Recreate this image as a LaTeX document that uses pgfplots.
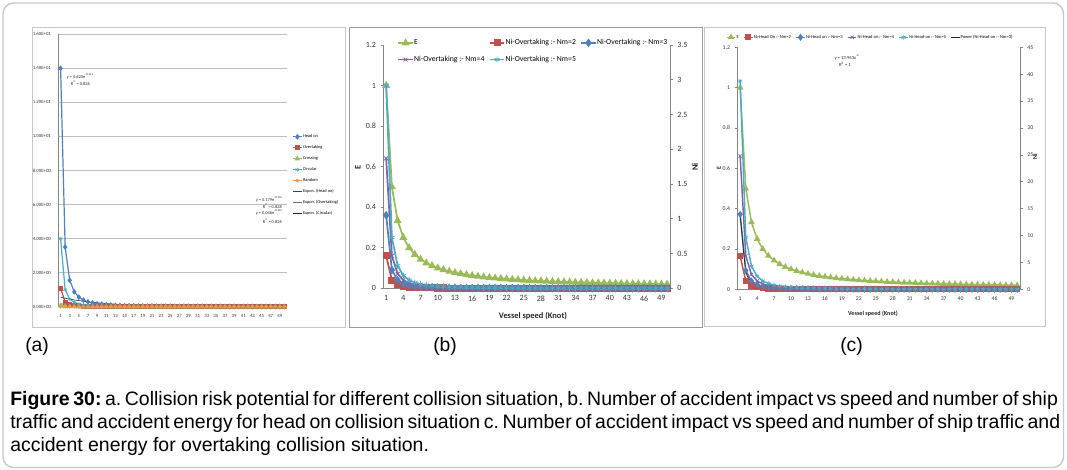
\documentclass[border=0pt]{standalone}
\usepackage{fontspec}
\setmainfont{Carlito}
\newfontfamily\capfont{Liberation Sans}
\usepackage{pgfplots}
\usepackage{pgfplotstable}
\pgfplotsset{compat=1.18}

\definecolor{exblue}{HTML}{4F81BD}
\definecolor{exred}{HTML}{C0504D}
\definecolor{exgreen}{HTML}{9BBB59}
\definecolor{expurple}{HTML}{8064A2}
\definecolor{excyan}{HTML}{4BACC6}
\definecolor{exorange}{HTML}{F79646}
\definecolor{axgray}{HTML}{868686}
\definecolor{gridgray}{HTML}{BFBFBF}
\definecolor{framegray}{HTML}{C8C8C8}

\newcommand\fsz[1]{\fontsize{#1}{#1}\selectfont}
\frenchspacing

% (a) collision risk potential per situation
\pgfplotstableread{
x headon overtaking crossing circular random
1 14 1.08 0.06 4 0
2 3.5 0.27 0.015 1 0
3 1.5556 0.12 0.0067 0.4444 0
4 0.875 0.0675 0.0038 0.25 0
5 0.56 0.0432 0.0024 0.16 0
6 0.3889 0.03 0.0017 0.1111 0
7 0.2857 0.022 0.0012 0.0816 0
8 0.2188 0.0169 0.0009 0.0625 0
9 0.1728 0.0133 0.0007 0.0494 0
10 0.14 0.0108 0.0006 0.04 0
11 0.1157 0.0089 0.0005 0.0331 0
12 0.0972 0.0075 0.0004 0.0278 0
13 0.0828 0.0064 0.0004 0.0237 0
14 0.0714 0.0055 0.0003 0.0204 0
15 0.0622 0.0048 0.0003 0.0178 0
16 0.0547 0.0042 0.0002 0.0156 0
17 0.0484 0.0037 0.0002 0.0138 0
18 0.0432 0.0033 0.0002 0.0123 0
19 0.0388 0.003 0.0002 0.0111 0
20 0.035 0.0027 0.0002 0.01 0
21 0.0317 0.0024 0.0001 0.0091 0
22 0.0289 0.0022 0.0001 0.0083 0
23 0.0265 0.002 0.0001 0.0076 0
24 0.0243 0.0019 0.0001 0.0069 0
25 0.0224 0.0017 0.0001 0.0064 0
26 0.0207 0.0016 0.0001 0.0059 0
27 0.0192 0.0015 0.0001 0.0055 0
28 0.0179 0.0014 0.0001 0.0051 0
29 0.0166 0.0013 0.0001 0.0048 0
30 0.0156 0.0012 0.0001 0.0044 0
31 0.0146 0.0011 0.0001 0.0042 0
32 0.0137 0.0011 0.0001 0.0039 0
33 0.0129 0.001 0.0001 0.0037 0
34 0.0121 0.0009 0.0001 0.0035 0
35 0.0114 0.0009 0 0.0033 0
36 0.0108 0.0008 0 0.0031 0
37 0.0102 0.0008 0 0.0029 0
38 0.0097 0.0007 0 0.0028 0
39 0.0092 0.0007 0 0.0026 0
40 0.0088 0.0007 0 0.0025 0
41 0.0083 0.0006 0 0.0024 0
42 0.0079 0.0006 0 0.0023 0
43 0.0076 0.0006 0 0.0022 0
44 0.0072 0.0006 0 0.0021 0
45 0.0069 0.0005 0 0.002 0
46 0.0066 0.0005 0 0.0019 0
47 0.0063 0.0005 0 0.0018 0
48 0.0061 0.0005 0 0.0017 0
49 0.0058 0.0004 0 0.0017 0
50 0.0056 0.0004 0 0.0016 0
}\tblA

% (a) exponential trend lines
\pgfplotstableread{
x hon ovt cir
1 0.555 0.0412 0.160
2 0.497 0.0369 0.1435
3 0.445 0.033 0.1285
4 0.398 0.0295 0.115
5 0.357 0.0265 0.103
6 0.319 0.0237 0.092
7 0.286 0.0212 0.0826
8 0.256 0.019 0.074
9 0.229 0.017 0.066
10 0.205 0.0152 0.059
12 0.164 0.0122 0.0474
14 0.131 0.0097 0.0378
16 0.105 0.0078 0.0303
18 0.084 0.0062 0.0243
20 0.067 0.005 0.0193
23 0.048 0.0036 0.0139
26 0.035 0.0026 0.0101
30 0.022 0.0016 0.0064
35 0.013 0.0010 0.0037
40 0.0073 0.0005 0.0021
45 0.0042 0.0003 0.0012
50 0.0024 0.0002 0.0007
}\tblAtrend

% (b) energy and overtaking impacts
\pgfplotstableread{
x E n2 n3 n4 n5
1 1 0.467 1.051 1.869 2.92
2 0.5 0.1168 0.2628 0.4673 0.73
3 0.3333 0.0519 0.1168 0.2077 0.3244
4 0.25 0.0292 0.0657 0.1168 0.1825
5 0.2 0.0187 0.042 0.0748 0.1168
6 0.1667 0.013 0.0292 0.0519 0.0811
7 0.1429 0.0095 0.0214 0.0381 0.0596
8 0.125 0.0073 0.0164 0.0292 0.0456
9 0.1111 0.0058 0.013 0.0231 0.036
10 0.1 0.0047 0.0105 0.0187 0.0292
11 0.0909 0.0039 0.0087 0.0154 0.0241
12 0.0833 0.0032 0.0073 0.013 0.0203
13 0.0769 0.0028 0.0062 0.0111 0.0173
14 0.0714 0.0024 0.0054 0.0095 0.0149
15 0.0667 0.0021 0.0047 0.0083 0.013
16 0.0625 0.0018 0.0041 0.0073 0.0114
17 0.0588 0.0016 0.0036 0.0065 0.0101
18 0.0556 0.0014 0.0032 0.0058 0.009
19 0.0526 0.0013 0.0029 0.0052 0.0081
20 0.05 0.0012 0.0026 0.0047 0.0073
21 0.0476 0.0011 0.0024 0.0042 0.0066
22 0.0455 0.001 0.0022 0.0039 0.006
23 0.0435 0.0009 0.002 0.0035 0.0055
24 0.0417 0.0008 0.0018 0.0032 0.0051
25 0.04 0.0007 0.0017 0.003 0.0047
26 0.0385 0.0007 0.0016 0.0028 0.0043
27 0.037 0.0006 0.0014 0.0026 0.004
28 0.0357 0.0006 0.0013 0.0024 0.0037
29 0.0345 0.0006 0.0012 0.0022 0.0035
30 0.0333 0.0005 0.0012 0.0021 0.0032
31 0.0323 0.0005 0.0011 0.0019 0.003
32 0.0313 0.0005 0.001 0.0018 0.0029
33 0.0303 0.0004 0.001 0.0017 0.0027
34 0.0294 0.0004 0.0009 0.0016 0.0025
35 0.0286 0.0004 0.0009 0.0015 0.0024
36 0.0278 0.0004 0.0008 0.0014 0.0023
37 0.027 0.0003 0.0008 0.0014 0.0021
38 0.0263 0.0003 0.0007 0.0013 0.002
39 0.0256 0.0003 0.0007 0.0012 0.0019
40 0.025 0.0003 0.0007 0.0012 0.0018
41 0.0244 0.0003 0.0006 0.0011 0.0017
42 0.0238 0.0003 0.0006 0.0011 0.0017
43 0.0233 0.0003 0.0006 0.001 0.0016
44 0.0227 0.0002 0.0005 0.001 0.0015
45 0.0222 0.0002 0.0005 0.0009 0.0014
46 0.0217 0.0002 0.0005 0.0009 0.0014
47 0.0213 0.0002 0.0005 0.0008 0.0013
48 0.0208 0.0002 0.0005 0.0008 0.0013
49 0.0204 0.0002 0.0004 0.0008 0.0012
50 0.02 0.0002 0.0004 0.0007 0.0012
}\tblB

% (c) energy and head-on impacts
\pgfplotstableread{
x E n2 n3 n4 n5
1 1 6.197 13.943 24.79 38.73
2 0.5 1.549 3.486 6.197 9.683
3 0.3333 0.6886 1.549 2.754 4.303
4 0.25 0.3873 0.8714 1.549 2.421
5 0.2 0.2479 0.5577 0.9915 1.549
6 0.1667 0.1721 0.3873 0.6886 1.076
7 0.1429 0.1265 0.2846 0.5059 0.7905
8 0.125 0.0968 0.2179 0.3873 0.6052
9 0.1111 0.0765 0.1721 0.306 0.4782
10 0.1 0.062 0.1394 0.2479 0.3873
11 0.0909 0.0512 0.1152 0.2049 0.3201
12 0.0833 0.043 0.0968 0.1721 0.269
13 0.0769 0.0367 0.0825 0.1467 0.2292
14 0.0714 0.0316 0.0711 0.1265 0.1976
15 0.0667 0.0275 0.062 0.1102 0.1721
16 0.0625 0.0242 0.0545 0.0968 0.1513
17 0.0588 0.0214 0.0482 0.0858 0.134
18 0.0556 0.0191 0.043 0.0765 0.1196
19 0.0526 0.0172 0.0386 0.0687 0.1073
20 0.05 0.0155 0.0349 0.062 0.0968
21 0.0476 0.0141 0.0316 0.0562 0.0878
22 0.0455 0.0128 0.0288 0.0512 0.08
23 0.0435 0.0117 0.0264 0.0469 0.0732
24 0.0417 0.0108 0.0242 0.043 0.0672
25 0.04 0.0099 0.0223 0.0397 0.062
26 0.0385 0.0092 0.0206 0.0367 0.0573
27 0.037 0.0085 0.0191 0.034 0.0531
28 0.0357 0.0079 0.0178 0.0316 0.0494
29 0.0345 0.0074 0.0166 0.0295 0.0461
30 0.0333 0.0069 0.0155 0.0275 0.043
31 0.0323 0.0064 0.0145 0.0258 0.0403
32 0.0313 0.0061 0.0136 0.0242 0.0378
33 0.0303 0.0057 0.0128 0.0228 0.0356
34 0.0294 0.0054 0.0121 0.0214 0.0335
35 0.0286 0.0051 0.0114 0.0202 0.0316
36 0.0278 0.0048 0.0108 0.0191 0.0299
37 0.027 0.0045 0.0102 0.0181 0.0283
38 0.0263 0.0043 0.0097 0.0172 0.0268
39 0.0256 0.0041 0.0092 0.0163 0.0255
40 0.025 0.0039 0.0087 0.0155 0.0242
41 0.0244 0.0037 0.0083 0.0147 0.023
42 0.0238 0.0035 0.0079 0.0141 0.022
43 0.0233 0.0034 0.0075 0.0134 0.0209
44 0.0227 0.0032 0.0072 0.0128 0.02
45 0.0222 0.0031 0.0069 0.0122 0.0191
46 0.0217 0.0029 0.0066 0.0117 0.0183
47 0.0213 0.0028 0.0063 0.0112 0.0175
48 0.0208 0.0027 0.0061 0.0108 0.0168
49 0.0204 0.0026 0.0058 0.0103 0.0161
50 0.02 0.0025 0.0056 0.0099 0.0155
}\tblC

\pgfplotsset{
  exaxis/.style={
    scale only axis, anchor=south west, clip=false,
    xmin=0.5, xmax=50.5,
    axis line style={-, draw=axgray, line width=0.5pt},
    tick align=outside, major tick length=2pt,
    tick style={draw=axgray, line width=0.5pt},
    xtick style={draw=none},
    ticklabel style={text=black!80},
  },
  speedticks/.style={
    xtick={1,4,7,10,13,16,19,22,25,28,31,34,37,40,43,46,49},
    xticklabels={1,4,7,10,13,16,19,22,25,28,31,34,37,40,43,46,49},
  },
}

\begin{document}
\begin{tikzpicture}
\begin{scope}[x=0.75pt,y=-0.75pt]
  \path[use as bounding box] (0,0) rectangle (1067,470);
  \draw[framegray, line width=1.1pt, rounded corners=8pt] (3,3) rectangle (1063.5,467.5);
  \draw[black!22, line width=0.75pt] (32,28) rectangle (345,327);
  \draw[black!40, line width=0.75pt] (349.5,28) rectangle (702,327);
  \draw[black!22, line width=0.75pt] (704,28) rectangle (1045,326);
\end{scope}

% ---------------- (a) ----------------
\begin{axis}[exaxis,
  at={(43.725pt,-230.025pt)}, width=171.3pt, height=204.3pt,
  ymin=0, ymax=16,
  axis x line*=bottom, axis y line*=left,
  ytick={0,2,4,6,8,10,12,14,16},
  yticklabels={0.00E+00,2.00E+00,4.00E+00,6.00E+00,8.00E+00,1.00E+01,1.20E+01,1.40E+01,1.60E+01},
  xtick={1,3,5,7,9,11,13,15,17,19,21,23,25,27,29,31,33,35,37,39,41,43,45,47,49},
  xticklabels={1,3,5,7,9,11,13,15,17,19,21,23,25,27,29,31,33,35,37,39,41,43,45,47,49},
  ymajorgrids, grid style={gridgray, line width=0.6pt},
  ytick style={draw=none},
  ticklabel style={font=\fsz{3.6pt}},
  legend style={at={(1.023,0.634)}, anchor=north west, draw=none, fill=none,
    font=\fsz{3.3pt}, nodes={inner sep=0.4pt, text height=2.4pt, text depth=0.7pt},
    row sep=4.3pt, inner sep=0pt},
  legend cell align=left,
  legend image code/.code={\draw[mark repeat=2,mark phase=2] plot coordinates {(0pt,0pt) (3.4pt,0pt) (6.8pt,0pt)};},
]
\addplot[exblue, line width=0.9pt, mark=diamond*, mark size=1.5pt] table[x=x,y=headon]{\tblA};
\addlegendentry{Head on}
\addplot[exred, line width=0.9pt, mark=square*, mark size=1.4pt] table[x=x,y=overtaking]{\tblA};
\addlegendentry{Overtaking}
\addplot[exgreen, line width=0.9pt, mark=triangle*, mark size=1.5pt] table[x=x,y=crossing]{\tblA};
\addlegendentry{Crossing}
\addplot[excyan, line width=0.9pt, mark=asterisk, mark size=1.5pt, mark options={line width=0.5pt}] table[x=x,y=circular]{\tblA};
\addlegendentry{Circular}
\addplot[black!75, line width=0.5pt, smooth, forget plot] table[x=x,y=hon]{\tblAtrend};
\addplot[black!55, line width=0.5pt, smooth, forget plot] table[x=x,y=ovt]{\tblAtrend};
\addplot[black!85, line width=0.5pt, smooth, forget plot] table[x=x,y=cir]{\tblAtrend};
\addplot[exorange, line width=0.8pt, mark=*, mark size=1.25pt, mark options={line width=0.3pt}] table[x=x,y=random]{\tblA};
\addlegendentry{Random}
\addlegendimage{black!75, line width=0.5pt}
\addlegendentry{Expon. (Head on)}
\addlegendimage{black!55, line width=0.5pt}
\addlegendentry{Expon. (Overtaking)}
\addlegendimage{black!85, line width=0.5pt}
\addlegendentry{Expon. (Circular)}
\end{axis}

% ---------------- (b) ----------------
\begin{axis}[exaxis, speedticks,
  at={(287.475pt,-216.225pt)}, width=215pt, height=182.5pt,
  ymin=0, ymax=1.2,
  axis x line*=bottom, axis y line*=left,
  ytick={0,0.2,0.4,0.6,0.8,1,1.2},
  yticklabels={0,0.2,0.4,0.6,0.8,1,1.2},
  ticklabel style={font=\fsz{6pt}},
]
\addplot[exgreen, line width=1.3pt, mark=triangle*, mark size=2.2pt] table[x=x,y=E]{\tblB};
\end{axis}
\begin{axis}[exaxis,
  at={(287.475pt,-216.225pt)}, width=215pt, height=182.5pt,
  ymin=0, ymax=3.5,
  axis x line=none, axis y line*=right,
  ytick={0,0.5,1,1.5,2,2.5,3,3.5},
  yticklabels={0,0.5,1,1.5,2,2.5,3,3.5},
  ticklabel style={font=\fsz{6pt}},
  legend style={at={(0.049,1.027)}, anchor=north west, draw=none, fill=none,
    font=\fsz{5.8pt}, nodes={inner sep=0.5pt, text height=4.2pt, text depth=1.2pt},
    row sep=6.1pt, inner sep=0pt,
    /tikz/every even column/.append style={column sep=3pt}},
  legend columns=3, legend cell align=left,
  legend image code/.code={\draw[mark repeat=2,mark phase=2] plot coordinates {(0pt,0pt) (5.3pt,0pt) (10.6pt,0pt)};},
]
\addlegendimage{exgreen, line width=1.3pt, mark=triangle*, mark size=2.2pt}
\addlegendentry{E}
\addplot[exred, line width=1.3pt, mark=square*, mark size=2pt] table[x=x,y=n2]{\tblB};
\addlegendentry{Ni-Overtaking :- Nm=2}
\addplot[exblue, line width=1.3pt, mark=diamond*, mark size=2.2pt] table[x=x,y=n3]{\tblB};
\addlegendentry{Ni-Overtaking :- Nm=3}
\addplot[expurple, line width=1.3pt, mark=x, mark size=2pt, mark options={line width=0.6pt}] table[x=x,y=n4]{\tblB};
\addlegendentry{Ni-Overtaking :- Nm=4}
\addplot[excyan, line width=1.3pt, mark=asterisk, mark size=2.2pt, mark options={line width=0.6pt}] table[x=x,y=n5]{\tblB};
\addlegendentry{Ni-Overtaking :- Nm=5}
\end{axis}

% ---------------- (c) ----------------
\begin{axis}[exaxis, speedticks,
  at={(552.975pt,-216.975pt)}, width=212pt, height=181.5pt,
  ymin=0, ymax=1.2,
  axis x line*=bottom, axis y line*=left,
  ytick={0,0.2,0.4,0.6,0.8,1,1.2},
  yticklabels={0,0.2,0.4,0.6,0.8,1,1.2},
  ticklabel style={font=\fsz{4.3pt}},
]
\addplot[exgreen, line width=1.1pt, mark=triangle*, mark size=1.8pt] table[x=x,y=E]{\tblC};
\end{axis}
\begin{axis}[exaxis,
  at={(552.975pt,-216.975pt)}, width=212pt, height=181.5pt,
  ymin=0, ymax=45,
  axis x line=none, axis y line*=right,
  ytick={0,5,10,15,20,25,30,35,40,45},
  yticklabels={0,5,10,15,20,25,30,35,40,45},
  ticklabel style={font=\fsz{4.3pt}},
  legend style={at={(-0.041,1.054)}, anchor=north west, draw=none, fill=none,
    font=\fsz{3.4pt}, nodes={inner sep=0.4pt, text height=2.6pt, text depth=0.8pt},
    inner sep=0pt,
    /tikz/every even column/.append style={column sep=3pt}},
  legend columns=6, legend cell align=left,
  legend image code/.code={\draw[mark repeat=2,mark phase=2] plot coordinates {(0pt,0pt) (3.2pt,0pt) (6.4pt,0pt)};},
]
\addlegendimage{exgreen, line width=1.1pt, mark=triangle*, mark size=1.8pt}
\addlegendentry{E}
\addplot[exred, line width=1.1pt, mark=square*, mark size=1.8pt] table[x=x,y=n2]{\tblC};
\addlegendentry{Ni-Head On :- Nm=2}
\addplot[exblue, line width=1.1pt, mark=diamond*, mark size=1.8pt] table[x=x,y=n3]{\tblC};
\addlegendentry{Ni-Head on :- Nm=3}
\addplot[expurple, line width=1.1pt, mark=x, mark size=1.7pt, mark options={line width=0.5pt}] table[x=x,y=n4]{\tblC};
\addlegendentry{Ni-Head on :- Nm=4}
\addplot[excyan, line width=1.1pt, mark=asterisk, mark size=1.8pt, mark options={line width=0.5pt}] table[x=x,y=n5]{\tblC};
\addlegendentry{Ni-Head-on :- Nm=5}
\addplot[black!85, line width=0.6pt, smooth] table[x=x,y=n3]{\tblC};
\addlegendentry{Power (Ni-Head on :- Nm=3)}
\end{axis}

\begin{scope}[x=0.75pt,y=-0.75pt]
  % trend line equations in (a)
  \begin{scope}[every node/.style={inner sep=0pt, font=\fsz{3.3pt}, text=black!85}]
    \node[anchor=west] at (66.7,76.7) {y = 0.620e\textsuperscript{-0.11x}};
    \node[anchor=west] at (70.7,82.7) {R\textsuperscript{2} = 0.826};
    \node[anchor=east] at (283,199.3) {y = 0.179e\textsuperscript{-0.11x}};
    \node[anchor=east] at (282,206) {R\textsuperscript{2} = 0.828};
    \node[anchor=east] at (283,212.7) {y = 0.046e\textsuperscript{-0.11x}};
    \node[anchor=east] at (282,221) {R\textsuperscript{2} = 0.826};
  \end{scope}
  % axis titles in (b)
  \node[font=\bfseries\fsz{6.3pt}, text=black!85] at (533,316) {Vessel speed (Knot)};
  \node[rotate=90, font=\bfseries\fsz{6.3pt}, text=black!85] at (358,167) {E};
  \node[rotate=90, font=\bfseries\fsz{6.3pt}, text=black!85] at (695,167) {Ni};
  % axis titles and fit in (c)
  \node[font=\bfseries\fsz{4.6pt}, text=black!85] at (873,314) {Vessel speed (Knot)};
  \node[rotate=90, font=\bfseries\fsz{4.6pt}, text=black!85] at (719,168) {E};
  \node[rotate=90, font=\bfseries\fsz{4.6pt}, text=black!85] at (1035,157) {Ni};
  \node[font=\fsz{3.5pt}, text=black!85] at (847,57.3) {y = 13.943x\textsuperscript{-2}};
  \node[font=\fsz{3.5pt}, text=black!85] at (845,64.3) {R\textsuperscript{2} = 1};
  % panel letters
  \begin{scope}[every node/.style={anchor=base west, inner sep=0pt, font=\capfont\fsz{14.5pt}}]
    \node at (25,351) {(a)};
    \node at (433,351) {(b)};
    \node at (840,351) {(c)};
  \end{scope}
  % caption
  \begin{scope}[every node/.style={anchor=base west, inner sep=0pt, font=\capfont\fontsize{14.6pt}{17pt}\selectfont}]
    \node at (10,405) {\makebox[785pt][s]{\textbf{Figure 30:} a. Collision risk potential for different collision situation, b. Number of accident impact vs speed and number of ship}};
    \node at (10,428) {\makebox[785pt][s]{traffic and accident energy for head on collision situation c. Number of accident impact vs speed and number of ship traffic and}};
    \node at (10,451) {accident energy for overtaking collision situation.};
  \end{scope}
\end{scope}
\end{tikzpicture}
\end{document}
